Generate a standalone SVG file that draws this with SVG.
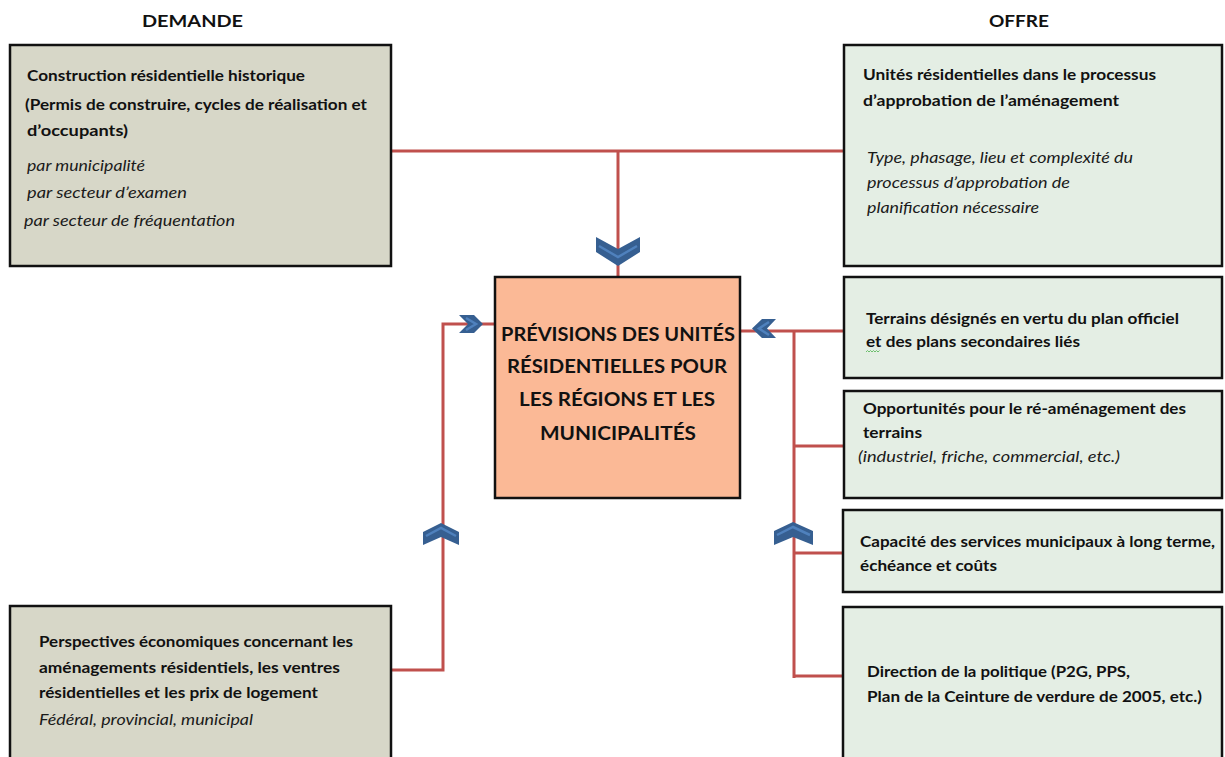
<svg xmlns="http://www.w3.org/2000/svg" width="1225" height="757" viewBox="0 0 1225 757">
<defs>
<style>
.bg{fill:#ffffff}
.box{stroke:#111;stroke-width:2.5}
.dem{fill:#d7d7c8}
.off{fill:#e4eee4}
.ctr{fill:#fbb996}
.t{font-family:Lato,"Liberation Sans",sans-serif;font-size:15.5px;font-weight:bold;fill:#111}
.i{font-family:Lato,"Liberation Sans",sans-serif;font-size:15px;font-style:italic;fill:#1a1a1a}
.h{font-family:Lato,"Liberation Sans",sans-serif;font-size:17px;font-weight:bold;fill:#111}
.c{font-family:Lato,"Liberation Sans",sans-serif;font-size:19px;font-weight:bold;fill:#111}
.ln{fill:none;stroke:#c0504d;stroke-width:3}
.chev{fill:#365f91}
.chs{fill:none;stroke:#4f81bd;stroke-width:2.5}
</style>
</defs>
<rect class="bg" x="0" y="0" width="1225" height="757"/>

<text class="h" x="142" y="27" textLength="101" lengthAdjust="spacingAndGlyphs">DEMANDE</text>
<text class="h" x="989" y="27" textLength="60" lengthAdjust="spacingAndGlyphs">OFFRE</text>

<g id="connectors">
<polyline class="ln" points="392,151 844,151"/>
<polyline class="ln" points="618,151 618,277"/>
<polyline class="ln" points="392,670 443,670 443,324 495,324"/>
<polyline class="ln" points="844,331 740,331"/>
<polyline class="ln" points="794,331 794,678"/>
<polyline class="ln" points="794,446 844,446"/>
<polyline class="ln" points="794,553 844,553"/>
<polyline class="ln" points="794,676 844,676"/>
<g id="chevron-top">
<polygon class="chev" points="596,237 618,249 640,237 640,252 618,266 596,252"/>
<polyline class="chs" points="599,246 618,257 637,246"/>
</g>
<g id="chevron-left">
<polygon class="chev" points="459,315 474,315 483,324 474,333 459,333 468,324"/>
<polyline class="chs" points="466,318 476,324 466,330"/>
</g>
<g id="chevron-right">
<polygon class="chev" points="776,319 762,319 752,328.5 762,338 776,338 767,328.5"/>
<polyline class="chs" points="769,322 759,328.5 769,335"/>
</g>
<g id="chevron-bl">
<polygon class="chev" points="441,523 459,532 459,545 441,537 423,545 423,532"/>
<polyline class="chs" points="426,536 441,528 456,536"/>
</g>
<g id="chevron-br">
<polygon class="chev" points="793,522 813,531 813,545 793,537 774,545 774,531"/>
<polyline class="chs" points="777,535 793,527 810,535"/>
</g>
</g>

<g id="node-historique">
<rect class="box dem" x="10" y="45" width="381" height="221"/>
<text class="t" x="27" y="81" textLength="278" lengthAdjust="spacingAndGlyphs">Construction résidentielle historique</text>
<text class="t" x="25" y="110" textLength="342" lengthAdjust="spacingAndGlyphs">(Permis de construire, cycles de réalisation et</text>
<text class="t" x="27" y="136" textLength="101" lengthAdjust="spacingAndGlyphs">d’occupants)</text>
<text class="i" x="27" y="171" textLength="118" lengthAdjust="spacingAndGlyphs">par municipalité</text>
<text class="i" x="27" y="198" textLength="160" lengthAdjust="spacingAndGlyphs">par secteur d’examen</text>
<text class="i" x="24" y="226" textLength="211" lengthAdjust="spacingAndGlyphs">par secteur de fréquentation</text>
</g>

<g id="node-perspectives">
<rect class="box dem" x="10" y="606" width="381" height="170"/>
<text class="t" x="39" y="647" textLength="314" lengthAdjust="spacingAndGlyphs">Perspectives économiques concernant les</text>
<text class="t" x="39" y="673" textLength="301" lengthAdjust="spacingAndGlyphs">aménagements résidentiels, les ventres</text>
<text class="t" x="39" y="698" textLength="279" lengthAdjust="spacingAndGlyphs">résidentielles et les prix de logement</text>
<text class="i" x="39" y="725" textLength="214" lengthAdjust="spacingAndGlyphs">Fédéral, provincial,  municipal</text>
</g>

<g id="node-previsions">
<rect class="box ctr" x="495" y="277" width="245" height="221"/>
<text class="c" x="501" y="341" textLength="234" lengthAdjust="spacingAndGlyphs">PRÉVISIONS DES UNITÉS</text>
<text class="c" x="507" y="373" textLength="220" lengthAdjust="spacingAndGlyphs">RÉSIDENTIELLES POUR</text>
<text class="c" x="519" y="406" textLength="196" lengthAdjust="spacingAndGlyphs">LES RÉGIONS ET LES</text>
<text class="c" x="540" y="440" textLength="156" lengthAdjust="spacingAndGlyphs">MUNICIPALITÉS</text>
</g>

<g id="node-unites">
<rect class="box off" x="844" y="45" width="378" height="221"/>
<text class="t" x="863" y="80" textLength="293" lengthAdjust="spacingAndGlyphs">Unités résidentielles dans le processus</text>
<text class="t" x="863" y="106" textLength="256" lengthAdjust="spacingAndGlyphs">d’approbation de l’aménagement</text>
<text class="i" x="867" y="163" textLength="266" lengthAdjust="spacingAndGlyphs">Type, phasage, lieu et complexité du</text>
<text class="i" x="867" y="188" textLength="203" lengthAdjust="spacingAndGlyphs">processus d’approbation  de</text>
<text class="i" x="867" y="213" textLength="172" lengthAdjust="spacingAndGlyphs">planification  nécessaire</text>
</g>

<g id="node-terrains">
<rect class="box off" x="844" y="277" width="378" height="101"/>
<text class="t" x="866" y="324" textLength="313" lengthAdjust="spacingAndGlyphs">Terrains désignés en vertu du plan officiel</text>
<text class="t" x="866" y="347" textLength="214" lengthAdjust="spacingAndGlyphs">et des plans secondaires liés</text>
<path d="M866,352 l1.5,-1.5 l1.5,1.5 l1.5,-1.5 l1.5,1.5 l1.5,-1.5 l1.5,1.5 l1.5,-1.5 l1.5,1.5 l1.5,-1.5" fill="none" stroke="#6cbf6c" stroke-width="1"/>
</g>

<g id="node-reamenagement">
<rect class="box off" x="844" y="391" width="378" height="107"/>
<text class="t" x="863" y="414" textLength="323" lengthAdjust="spacingAndGlyphs">Opportunités pour le ré-aménagement des</text>
<text class="t" x="863" y="438" textLength="59" lengthAdjust="spacingAndGlyphs">terrains</text>
<text class="i" x="858" y="462" textLength="262" lengthAdjust="spacingAndGlyphs">(industriel, friche, commercial, etc.)</text>
</g>

<g id="node-services">
<rect class="box off" x="843" y="510" width="379" height="82"/>
<text class="t" x="860" y="547" textLength="355" lengthAdjust="spacingAndGlyphs">Capacité des services municipaux à long terme,</text>
<text class="t" x="860" y="571" textLength="137" lengthAdjust="spacingAndGlyphs">échéance et coûts</text>
</g>

<g id="node-politique">
<rect class="box off" x="843" y="607" width="379" height="170"/>
<text class="t" x="867" y="677" textLength="263" lengthAdjust="spacingAndGlyphs">Direction de la politique (P2G, PPS,</text>
<text class="t" x="867" y="702" textLength="335" lengthAdjust="spacingAndGlyphs">Plan de la Ceinture de verdure de 2005, etc.)</text>
</g>
</svg>
